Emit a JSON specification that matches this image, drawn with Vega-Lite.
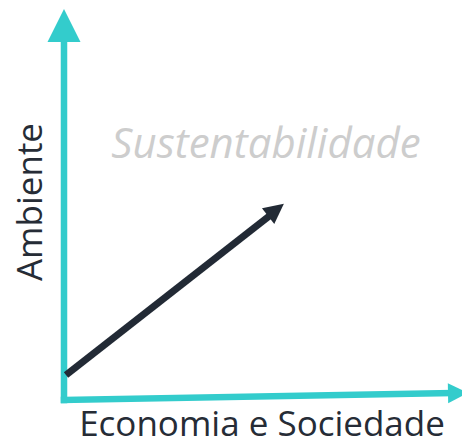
{
  "$schema": "https://vega.github.io/schema/vega-lite/v6.json",
  "width": 462,
  "height": 441,
  "padding": 0,
  "autosize": "none",
  "background": "white",
  "config": {"view": {"stroke": null}},
  "datasets": {
    "axes": [
      {"part": "Ambiente", "x": 64, "y": 41, "x2": 64, "y2": 399},
      {"part": "Economia e Sociedade", "x": 64, "y": 41, "x2": 450, "y2": 48}
    ],
    "trend": [
      {"part": "Sustentabilidade", "x": 66, "y": 66, "x2": 277, "y2": 231}
    ],
    "axisHeads": [
      {"part": "Ambiente", "x": 64, "y": 415.5, "angle": 0}
    ],
    "smallHeads": [
      {"part": "Economia e Sociedade", "x": 458, "y": 48, "angle": 89},
      {"part": "Sustentabilidade", "x": 276, "y": 231, "angle": 52}
    ],
    "labels": [
      {"label": "Ambiente", "x": 42, "y": 239, "angle": 270},
      {"label": "Economia e Sociedade", "x": 262, "y": 5, "angle": 0}
    ],
    "title": [
      {"label": "Sustentabilidade", "x": 266, "y": 296}
    ]
  },
  "encoding": {
    "x": {"field": "x", "type": "quantitative", "scale": {"domain": [0, 462]}, "axis": null},
    "y": {"field": "y", "type": "quantitative", "scale": {"domain": [0, 441]}, "axis": null}
  },
  "layer": [
    {
      "data": {"name": "axes"},
      "mark": {"type": "rule", "color": "#33CCCC", "strokeWidth": 6.5, "strokeCap": "square"},
      "encoding": {"x2": {"field": "x2"}, "y2": {"field": "y2"}}
    },
    {
      "data": {"name": "trend"},
      "mark": {"type": "rule", "color": "#222A35", "strokeWidth": 7, "strokeCap": "butt"},
      "encoding": {"x2": {"field": "x2"}, "y2": {"field": "y2"}}
    },
    {
      "data": {"name": "axisHeads"},
      "mark": {"type": "point", "shape": "M0,-1L-1,1L1,1Z", "filled": true, "opacity": 1, "color": "#33CCCC", "size": 1089, "strokeWidth": 0},
      "encoding": {"angle": {"field": "angle", "type": "quantitative", "scale": null}}
    },
    {
      "data": {"name": "smallHeads"},
      "mark": {"type": "point", "shape": "M0,-1L-1,1L1,1Z", "filled": true, "opacity": 1, "size": 400, "strokeWidth": 0},
      "encoding": {
        "angle": {"field": "angle", "type": "quantitative", "scale": null},
        "color": {"field": "part", "type": "nominal", "scale": {"domain": ["Economia e Sociedade", "Sustentabilidade"], "range": ["#33CCCC", "#222A35"]}, "legend": null}
      }
    },
    {
      "data": {"name": "labels"},
      "mark": {"type": "text", "font": "Open Sans", "fontSize": 35, "color": "#262C36", "align": "center", "baseline": "alphabetic"},
      "encoding": {
        "text": {"field": "label"},
        "angle": {"field": "angle", "type": "quantitative", "scale": null}
      }
    },
    {
      "data": {"name": "title"},
      "mark": {"type": "text", "font": "Open Sans", "fontSize": 42, "fontStyle": "italic", "color": "#CDCDCD", "align": "center", "baseline": "middle"},
      "encoding": {"text": {"field": "label"}}
    }
  ]
}
